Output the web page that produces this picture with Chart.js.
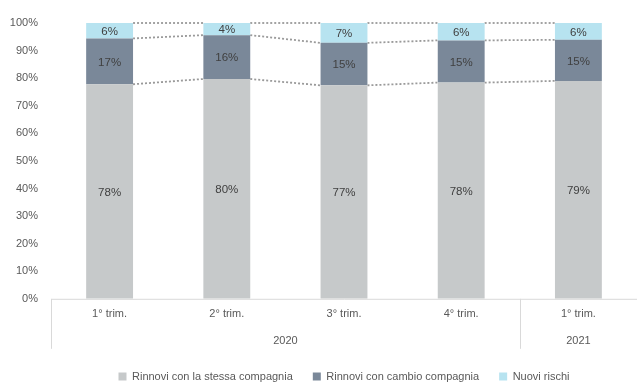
<!DOCTYPE html>
<html>
<head>
<meta charset="utf-8">
<script src="https://cdn.jsdelivr.net/npm/chart.js@4/dist/chart.umd.min.js"></script>
<style>
  html, body { margin: 0; padding: 0; background: #fff; }
  #wrap { width: 637px; height: 383px; position: relative; }
</style>
</head>
<body>
<div id="wrap"><canvas id="chart"></canvas></div>
<script>
var quarters = ['1° trim.', '2° trim.', '3° trim.', '4° trim.', '1° trim.'];
var years = ['2020', '2021'];
var yearSpan = [4, 1];

var stessa = [77.8, 79.7, 77.4, 78.4, 79.0];
var cambio = [16.6, 15.9, 15.4, 15.3, 14.9];
var nuovi = [5.6, 4.4, 7.2, 6.3, 6.1];

var FONT = "'Liberation Sans', Arial, sans-serif";
var TXT = '#595959';

// dotted connectors between neighbouring bars, at the top of each segment
var connectors = {
  id: 'connectors',
  beforeDatasetsDraw: function(chart) {
    var ctx = chart.ctx;
    ctx.save();
    ctx.strokeStyle = '#9a9a9a';
    ctx.lineWidth = 1.8;
    ctx.setLineDash([2, 2]);
    chart.data.datasets.forEach(function(ds, i) {
      var bars = chart.getDatasetMeta(i).data;
      for (var j = 0; j < bars.length - 1; j++) {
        var a = bars[j], b = bars[j + 1];
        ctx.beginPath();
        ctx.moveTo(a.x + a.width / 2, a.y);
        ctx.lineTo(b.x - b.width / 2, b.y);
        ctx.stroke();
      }
    });
    ctx.restore();
  }
};

var valueLabels = {
  id: 'valueLabels',
  afterDatasetsDraw: function(chart) {
    var ctx = chart.ctx;
    ctx.save();
    ctx.font = '11.5px ' + FONT;
    ctx.fillStyle = '#404040';
    ctx.textAlign = 'center';
    ctx.textBaseline = 'middle';
    chart.data.datasets.forEach(function(ds, i) {
      chart.getDatasetMeta(i).data.forEach(function(bar, j) {
        var mid = (bar.y + bar.base) / 2;
        ctx.fillText(Math.round(ds.data[j]) + '%', bar.x, mid + 1);
      });
    });
    ctx.restore();
  }
};

// year row and group separators under the quarter labels
var yearAxis = {
  id: 'yearAxis',
  afterDraw: function(chart) {
    var ctx = chart.ctx, xs = chart.scales.x, area = chart.chartArea;
    var step = xs.getPixelForValue(1) - xs.getPixelForValue(0);
    var bottom = area.bottom + 50;
    ctx.save();
    ctx.strokeStyle = '#d9d9d9';
    ctx.lineWidth = 1;
    ctx.beginPath();
    ctx.moveTo(area.left + 0.5, area.bottom + 0.5);
    ctx.lineTo(area.right, area.bottom + 0.5);
    ctx.stroke();
    ctx.font = '11px ' + FONT;
    ctx.fillStyle = TXT;
    ctx.textAlign = 'center';
    ctx.textBaseline = 'middle';
    var idx = 0;
    years.forEach(function(y, k) {
      var left = xs.getPixelForValue(idx) - step / 2;
      var right = xs.getPixelForValue(idx + yearSpan[k] - 1) + step / 2;
      ctx.beginPath();
      ctx.moveTo(Math.round(left) + 0.5, area.bottom);
      ctx.lineTo(Math.round(left) + 0.5, bottom);
      ctx.stroke();
      ctx.fillText(y, (left + right) / 2, area.bottom + 42);
      idx += yearSpan[k];
    });
    ctx.restore();
  }
};

new Chart(document.getElementById('chart'), {
  type: 'bar',
  data: {
    labels: quarters,
    datasets: [
      { label: 'Rinnovi con la stessa compagnia', data: stessa, backgroundColor: '#c6c9ca' },
      { label: 'Rinnovi con cambio compagnia', data: cambio, backgroundColor: '#7a8899' },
      { label: 'Nuovi rischi', data: nuovi, backgroundColor: '#b7e3f0' }
    ]
  },
  options: {
    responsive: true,
    maintainAspectRatio: false,
    animation: false,
    layout: { padding: { top: 23, left: 0, right: 0, bottom: -9 } },
    datasets: { bar: { barPercentage: 0.8, categoryPercentage: 0.5 } },
    plugins: {
      legend: {
        position: 'bottom',
        fullSize: false,
        labels: {
          color: TXT,
          font: { family: FONT, size: 11 },
          boxWidth: 8,
          boxHeight: 8,
          padding: 20
        }
      },
      tooltip: { enabled: false }
    },
    scales: {
      x: {
        stacked: true,
        grid: { display: false, drawTicks: false },
        border: { display: false },
        ticks: { color: TXT, font: { family: FONT, size: 11 }, padding: 9 },
        afterFit: function(s) { s.height += 21; }
      },
      y: {
        stacked: true,
        min: 0,
        max: 100,
        grid: { display: false, drawTicks: false },
        border: { display: false },
        ticks: {
          stepSize: 10,
          color: TXT,
          padding: 13,
          font: { family: FONT, size: 11 },
          callback: function(v) { return v + '%'; }
        },
        afterFit: function(s) { s.width = 51; }
      }
    }
  },
  plugins: [connectors, valueLabels, yearAxis]
});
</script>
</body>
</html>
